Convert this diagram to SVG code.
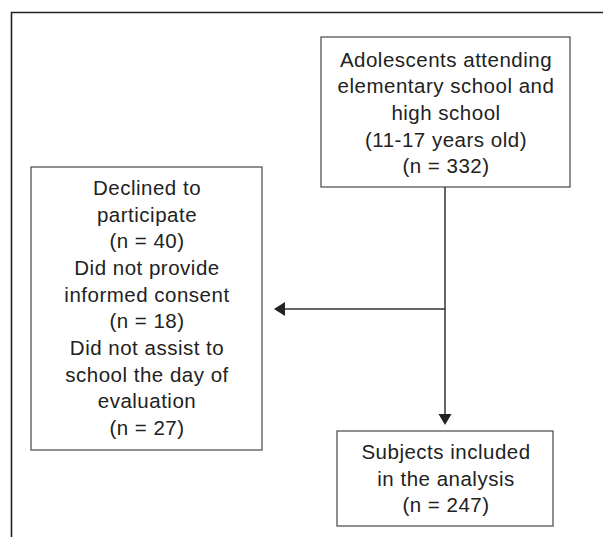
<svg xmlns="http://www.w3.org/2000/svg" width="603" height="537" viewBox="0 0 603 537">
<style>
.box{fill:#fff;stroke:#555;stroke-width:1.3}
.frame{fill:none;stroke:#222;stroke-width:1.6}
.conn{fill:none;stroke:#333;stroke-width:1.5}
.head{fill:#222;stroke:none}
text{font-family:"Liberation Sans",Arial,sans-serif;font-size:20.5px;fill:#222;text-anchor:middle;letter-spacing:0.5px}
</style>
<rect width="603" height="537" fill="#fff"/>
<path class="frame" d="M11.5,537 V12.5 H603"/>
<g id="top">
<rect class="box" x="321" y="37" width="249" height="150"/>
<text x="446" y="66.7">Adolescents attending</text>
<text x="446" y="93.3">elementary school and</text>
<text x="446" y="120">high school</text>
<text x="446" y="146.7">(11-17 years old)</text>
<text x="446" y="173.3">(n = 332)</text>
</g>
<g id="excluded">
<rect class="box" x="31" y="167" width="231" height="283"/>
<text x="147" y="195">Declined to</text>
<text x="147" y="221.7">participate</text>
<text x="147" y="248.3">(n = 40)</text>
<text x="147" y="275">Did not provide</text>
<text x="147" y="301.7">informed consent</text>
<text x="147" y="328.3">(n = 18)</text>
<text x="147" y="355">Did not assist to</text>
<text x="147" y="381.7">school the day of</text>
<text x="147" y="408.3">evaluation</text>
<text x="147" y="435">(n = 27)</text>
</g>
<g id="included">
<rect class="box" x="337" y="431" width="216" height="95"/>
<text x="446" y="459.3">Subjects included</text>
<text x="446" y="485.7">in the analysis</text>
<text x="446" y="512">(n = 247)</text>
</g>
<g id="connectors">
<line class="conn" x1="445" y1="187" x2="445" y2="416"/>
<path class="head" d="M438.5,414 L451.5,414 L445,425 Z"/>
<line class="conn" x1="445" y1="309" x2="284" y2="309"/>
<path class="head" d="M274,309 L285,302 L285,316 Z"/>
</g>
</svg>
